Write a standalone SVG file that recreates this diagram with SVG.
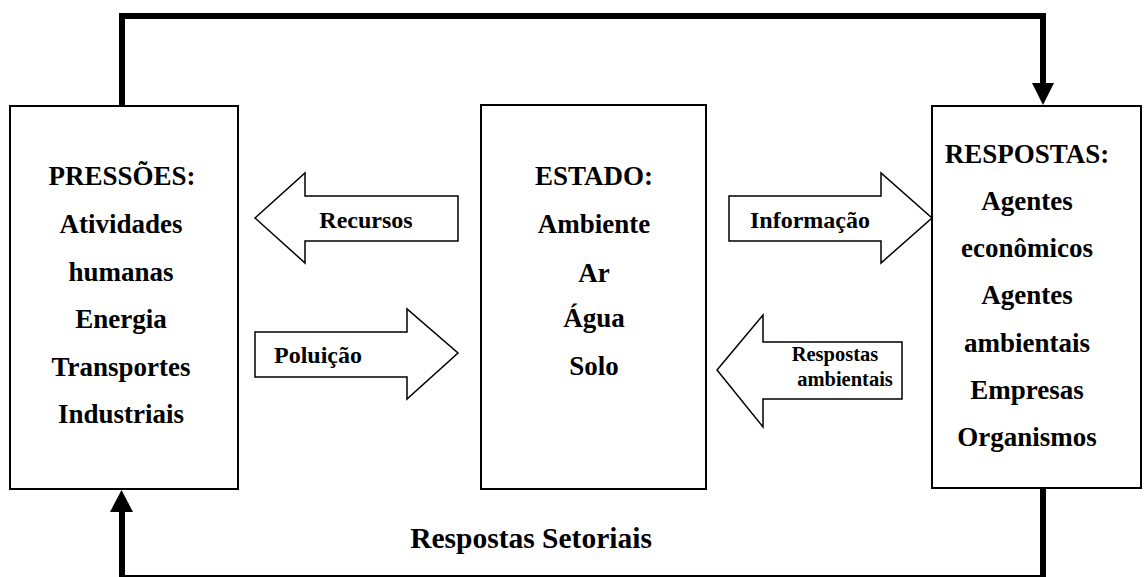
<svg xmlns="http://www.w3.org/2000/svg" width="1145" height="577" viewBox="0 0 1145 577">
<style>
.box{fill:#fff;stroke:#000;stroke-width:2}
.blk{fill:none;stroke:#000;stroke-width:6;stroke-linejoin:miter}
.head{fill:#000;stroke:none}
.arr{fill:#fff;stroke:#000;stroke-width:1.5;stroke-linejoin:miter}
text{font-family:"Liberation Serif","Times New Roman",serif;font-weight:bold;fill:#000;text-anchor:middle}
.m{font-size:27px}
.l{font-size:24px}
.s{font-size:20.5px}
.b{font-size:29.5px}
</style>
<rect width="1145" height="577" fill="#fff"/>
<g id="connectors">
<path class="blk" d="M122,106 V16 H1043 V86"/>
<polygon class="head" points="1032,83 1054,83 1043,105"/>
<path class="blk" d="M1043,489 V578 H122 V510"/>
<polygon class="head" points="110,512 133,512 121.5,490"/>
</g>
<g id="pressoes">
<rect class="box" x="10" y="106" width="228" height="383"/>
<text class="m" x="122" y="185">PRESSÕES:</text>
<text class="m" x="121" y="233">Atividades</text>
<text class="m" x="121" y="281">humanas</text>
<text class="m" x="121" y="328">Energia</text>
<text class="m" x="121" y="376">Transportes</text>
<text class="m" x="121" y="423">Industriais</text>
</g>
<g id="estado">
<rect class="box" x="481" y="105" width="225" height="384"/>
<text class="m" x="594" y="185">ESTADO:</text>
<text class="m" x="594" y="233">Ambiente</text>
<text class="m" x="594" y="282">Ar</text>
<text class="m" x="594" y="327">Água</text>
<text class="m" x="594" y="375">Solo</text>
</g>
<g id="respostas">
<rect class="box" x="932" y="106" width="209" height="382"/>
<text class="m" x="1027" y="163">RESPOSTAS:</text>
<text class="m" x="1027" y="210">Agentes</text>
<text class="m" x="1027" y="257">econômicos</text>
<text class="m" x="1027" y="304">Agentes</text>
<text class="m" x="1027" y="352">ambientais</text>
<text class="m" x="1027" y="399">Empresas</text>
<text class="m" x="1027" y="446">Organismos</text>
</g>
<g id="recursos">
<polygon class="arr" points="255,218 305,173 305,196 458,196 458,241 305,241 305,263"/>
<text class="l" x="366" y="228">Recursos</text>
</g>
<g id="poluicao">
<polygon class="arr" points="255,332 407,332 407,309 458,353 407,399 407,377 255,377"/>
<text class="l" x="318" y="363">Poluição</text>
</g>
<g id="informacao">
<polygon class="arr" points="729,196 881,196 881,173 932,218 881,263 881,241 729,241"/>
<text class="l" x="810" y="228">Informação</text>
</g>
<g id="respostas-ambientais">
<polygon class="arr" points="717,370 763,315 763,342 902,342 902,399 763,399 763,427"/>
<text class="s" x="835" y="361">Respostas</text>
<text class="s" x="845" y="386">ambientais</text>
</g>
<g id="setoriais">
<text class="b" x="531" y="548">Respostas Setoriais</text>
</g>
</svg>
